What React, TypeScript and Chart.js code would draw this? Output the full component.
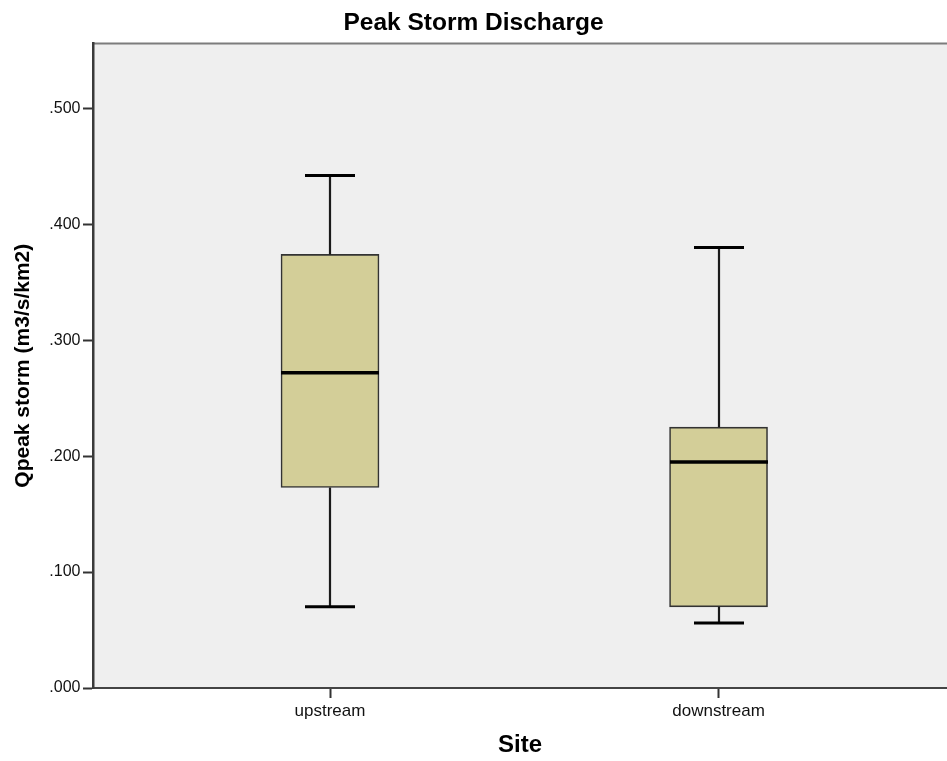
import React, { useEffect, useRef } from 'react';
import { Chart, registerables } from 'chart.js';

Chart.register(...registerables);

// ---- data ----
const categories = ['upstream', 'downstream'];
const categoryPositions = [1, 2];
const whiskerLow = [0.07, 0.056];
const q1 = [0.173, 0.07];
const median = [0.272, 0.195];
const q3 = [0.374, 0.225];
const whiskerHigh = [0.442, 0.38];
const yTicks = [0, 0.1, 0.2, 0.3, 0.4, 0.5];
const yMin = 0;
const yMax = 0.556;
const xMin = 0.39;
const xMax = 2.588;

const FONT = '"Liberation Sans", Arial, sans-serif';

const plotBackground = {
  id: 'plotBackground',
  beforeDraw(chart: any) {
    const { ctx, chartArea } = chart;
    ctx.save();
    ctx.fillStyle = '#efefef';
    ctx.fillRect(chartArea.left, chartArea.top, chartArea.right - chartArea.left, chartArea.bottom - chartArea.top);
    ctx.strokeStyle = '#7c7c7c';
    ctx.lineWidth = 2;
    ctx.beginPath();
    ctx.moveTo(chartArea.left, chartArea.top);
    ctx.lineTo(chartArea.right, chartArea.top);
    ctx.stroke();
    ctx.restore();
  },
};

const whiskers = {
  id: 'whiskers',
  afterDatasetsDraw(chart: any) {
    const { ctx } = chart;
    const xs = chart.scales.x;
    const ys = chart.scales.y;
    const capHalf = 25;
    const boxHalf = 49;
    ctx.save();
    categoryPositions.forEach((p, i) => {
      const cx = Math.round(xs.getPixelForValue(p));
      const yLo = ys.getPixelForValue(whiskerLow[i]);
      const yQ1 = ys.getPixelForValue(q1[i]);
      const yMed = ys.getPixelForValue(median[i]);
      const yQ3 = ys.getPixelForValue(q3[i]);
      const yHi = ys.getPixelForValue(whiskerHigh[i]);
      // vertical whiskers
      ctx.strokeStyle = '#1a1a1a';
      ctx.lineWidth = 2.2;
      ctx.beginPath();
      ctx.moveTo(cx, yQ3);
      ctx.lineTo(cx, yHi);
      ctx.moveTo(cx, yQ1);
      ctx.lineTo(cx, yLo);
      ctx.stroke();
      // caps
      ctx.strokeStyle = '#000';
      ctx.lineWidth = 3;
      ctx.beginPath();
      ctx.moveTo(cx - capHalf, yHi);
      ctx.lineTo(cx + capHalf, yHi);
      ctx.moveTo(cx - capHalf, yLo);
      ctx.lineTo(cx + capHalf, yLo);
      ctx.stroke();
      // median
      ctx.lineWidth = 3.5;
      ctx.beginPath();
      ctx.moveTo(cx - boxHalf, yMed);
      ctx.lineTo(cx + boxHalf, yMed);
      ctx.stroke();
    });
    ctx.restore();
  },
};

export default function App() {
  const ref = useRef<HTMLCanvasElement | null>(null);

  useEffect(() => {
    document.body.style.margin = '0';
    if (!ref.current) return;
    const chart = new Chart(ref.current, {
      type: 'bar',
      data: {
        datasets: [
          {
            data: categoryPositions.map((p, i) => ({ x: p, y: [q1[i], q3[i]] })) as any,
            backgroundColor: '#d3ce98',
            borderColor: '#333333',
            borderWidth: 1.6,
            borderSkipped: false,
            barThickness: 98,
          },
        ],
      },
      options: {
        responsive: false,
        animation: false,
        layout: { padding: 0 },
        plugins: {
          legend: { display: false },
          tooltip: { enabled: false },
          title: {
            display: true,
            text: 'Peak Storm Discharge',
            color: '#000',
            font: { family: FONT, size: 24.5, weight: 'bold' },
            padding: { top: 9, bottom: 5 },
          },
        },
        scales: {
          x: {
            type: 'linear',
            min: xMin,
            max: xMax,
            offset: false,
            afterFit: (s: any) => {
              s.height = 73;
            },
            afterBuildTicks: (s: any) => {
              s.ticks = categoryPositions.map((v) => ({ value: v }));
            },
            ticks: {
              autoSkip: false,
              maxRotation: 0,
              padding: 3,
              color: '#111',
              font: { family: FONT, size: 17 },
              callback: (v: any) => categories[categoryPositions.indexOf(Number(v))] ?? '',
            },
            grid: {
              display: true,
              offset: false,
              drawOnChartArea: false,
              drawTicks: true,
              tickLength: 10,
              tickColor: '#333',
              tickWidth: 2,
            },
            border: { display: true, color: '#444444', width: 2 },
            title: {
              display: true,
              text: 'Site',
              color: '#000',
              font: { family: FONT, size: 24, weight: 'bold' },
              padding: { top: 0, bottom: 1 },
            },
          },
          y: {
            type: 'linear',
            min: yMin,
            max: yMax,
            afterFit: (s: any) => {
              s.width = 93;
            },
            afterBuildTicks: (s: any) => {
              s.ticks = yTicks.map((v) => ({ value: v }));
            },
            ticks: {
              padding: 2.5,
              color: '#111',
              font: { family: FONT, size: 16 },
              callback: (v: any) => Number(v).toFixed(3).replace(/^0/, ''),
            },
            grid: {
              display: true,
              drawOnChartArea: false,
              drawTicks: true,
              tickLength: 10,
              tickColor: '#333',
              tickWidth: 2,
            },
            border: { display: true, color: '#3a3a3a', width: 2.5 },
            title: {
              display: true,
              text: 'Qpeak storm (m3/s/km2)',
              color: '#000',
              font: { family: FONT, size: 21, weight: 'bold' },
              padding: { top: 10.4, bottom: 0 },
            },
          },
        },
      },
      plugins: [plotBackground, whiskers],
    });
    return () => chart.destroy();
  }, []);

  return (
    <div style={{ width: 947, height: 761 }}>
      <canvas ref={ref} width={947} height={761} style={{ width: 947, height: 761, display: 'block' }} />
    </div>
  );
}
